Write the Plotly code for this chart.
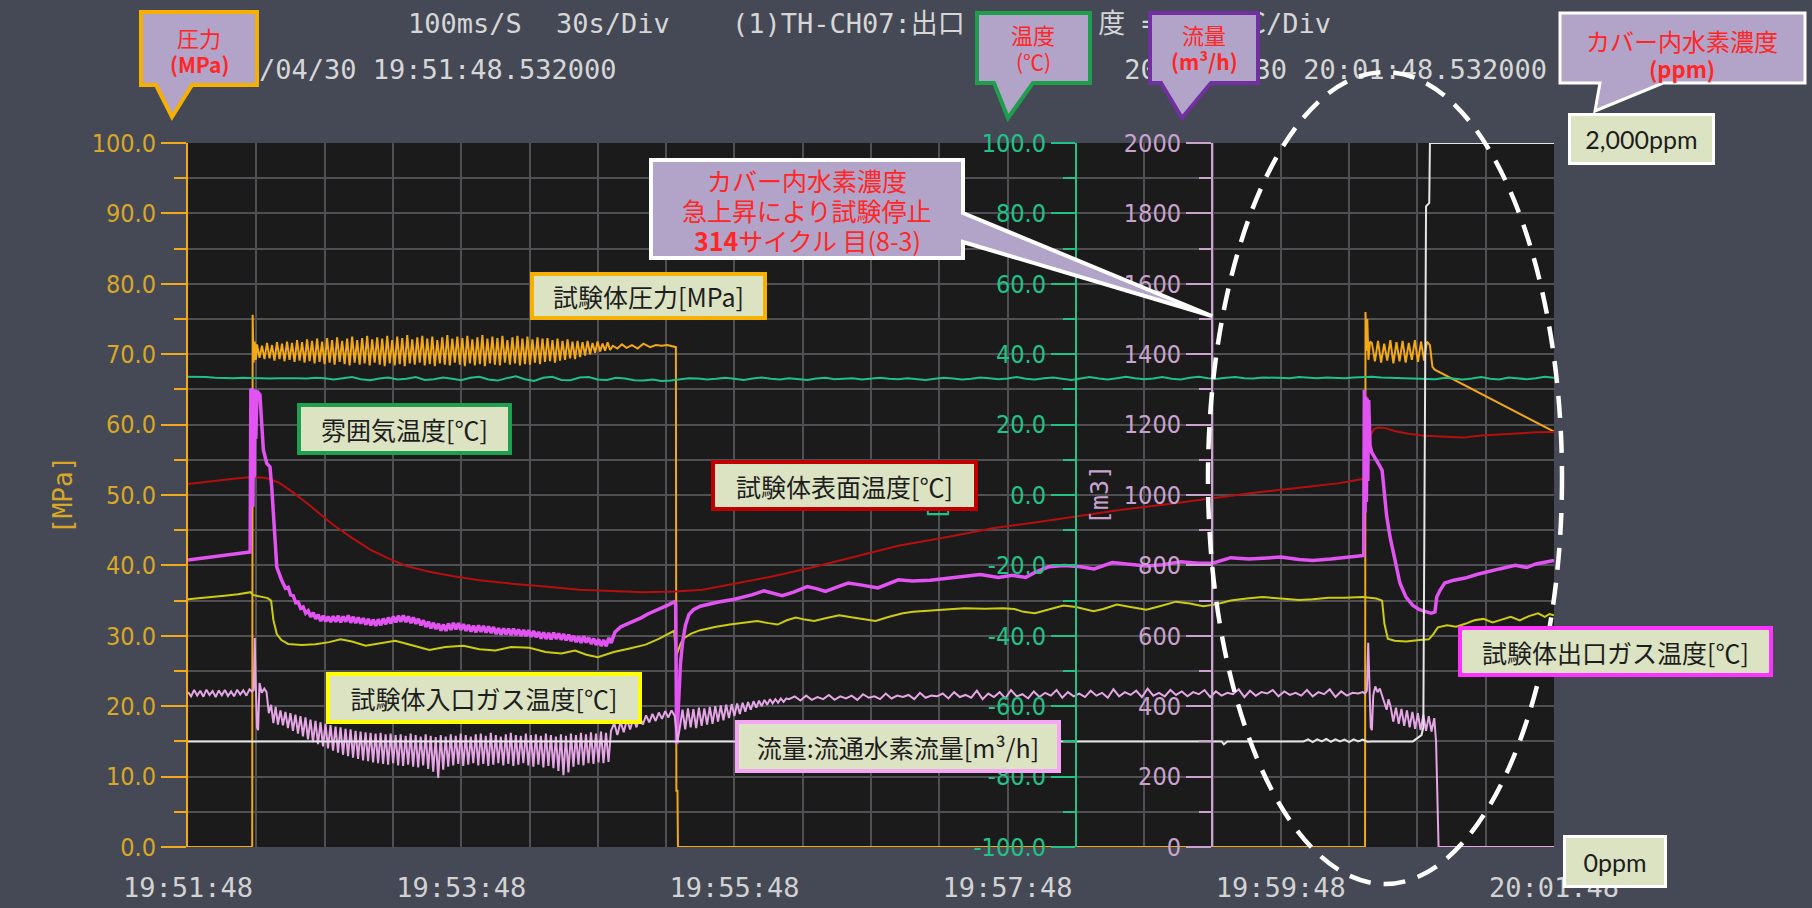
import pandas as pd
import plotly.graph_objects as go

W, H = 1812, 908
START = pd.Timestamp("2015-04-30 19:51:48")

# ---------------- axis ticks ----------------
time_tick_s = [0, 120, 240, 360, 480, 600]
time_tick_text = ["19:51:48", "19:53:48", "19:55:48", "19:57:48", "19:59:48", "20:01:48"]
time_minor_s = [30, 60, 90, 150, 180, 210, 270, 300, 330, 390, 420, 450, 510, 540, 570]

press_tick = [0, 10, 20, 30, 40, 50, 60, 70, 80, 90, 100]
press_tick_text = ["0.0", "10.0", "20.0", "30.0", "40.0", "50.0", "60.0", "70.0", "80.0", "90.0", "100.0"]
press_minor = [5, 15, 25, 35, 45, 55, 65, 75, 85, 95]

temp_tick = [-100, -80, -60, -40, -20, 0, 20, 40, 60, 80, 100]
temp_tick_text = ["-100.0", "-80.0", "-60.0", "-40.0", "-20.0", "0.0", "20.0", "40.0", "60.0", "80.0", "100.0"]
temp_minor = [-90, -70, -50, -30, -10, 10, 30, 50, 70, 90]

flow_tick = [0, 200, 400, 600, 800, 1000, 1200, 1400, 1600, 1800, 2000]
flow_tick_text = ["0", "200", "400", "600", "800", "1000", "1200", "1400", "1600", "1800", "2000"]
flow_minor = [100, 300, 500, 700, 900, 1100, 1300, 1500, 1700, 1900]

# ---------------- recorded channels (t in s from 19:51:48) ----------------
# test-piece pressure [MPa]
press_head = [(0.0, 0.0), (28.2, 0.0), (28.4, 75.6), (28.8, 68.8), (29.3, 71.8), (29.8, 69.2)]
press_ripple1_t0, press_ripple1_dt = 30.3, 1.1
press_ripple1 = [
    71.4, 69.5, 71.2, 69.3, 71.6, 69.4, 71.3, 69.1, 71.7, 69.3,
    71.5, 69.0, 71.8, 69.2, 71.6, 68.9, 72.0, 69.1, 71.7, 68.8,
    72.1, 69.0, 71.9, 68.7, 72.2, 68.9, 71.8, 68.6, 72.3, 68.8,
    72.0, 68.5, 72.4, 68.9, 71.9, 68.6, 72.2, 68.4, 72.5, 68.8,
    72.0, 68.5, 72.3, 68.7, 72.6, 68.4, 72.1, 68.8, 72.4, 68.5,
    72.2, 68.3, 72.6, 68.7, 72.0, 68.4, 72.5, 68.6, 72.3, 68.3,
    72.7, 68.7, 72.1, 68.5, 72.4, 68.8, 72.6, 68.4, 72.2, 68.6,
    72.5, 68.3, 72.0, 68.7, 72.4, 68.5, 72.7, 68.4, 72.2, 68.8,
    72.5, 68.5, 72.3, 68.3, 72.6, 68.7, 72.1, 68.4, 72.4, 68.6,
    72.7, 68.3, 72.2, 68.7, 72.5, 68.5, 72.3, 68.4, 72.6, 68.8,
    72.0, 68.5, 72.4, 68.7, 72.6, 68.4, 72.2, 68.6, 72.5, 68.5,
    72.1, 68.8, 72.4, 68.6, 72.2, 68.9, 72.3, 69.0, 72.0, 68.8,
    72.2, 69.1, 71.9, 69.2, 72.1, 69.4, 71.8, 69.3, 71.9, 69.6,
    71.7, 69.8, 71.9, 70.0, 71.6, 70.2, 71.8, 70.4, 71.5, 70.5,
    71.7, 70.6,
]
press_mid = [
    (186.6, 71.2), (188.6, 70.8), (190.6, 71.4), (192.6, 70.9), (195.0, 71.3),
    (197.5, 70.8), (200.0, 71.5), (203.0, 71.0), (205.5, 71.3), (208.0, 71.2),
    (210.5, 71.3), (212.5, 71.1), (214.3, 71.0), (214.5, 8.0), (215.0, 8.0),
    (215.2, 0.0), (517.0, 0.0), (517.2, 76.0), (517.6, 70.5), (518.0, 75.0),
    (518.5, 69.2), (519.2, 71.8),
]
press_ripple2_t0, press_ripple2_dt = 520.0, 1.35
press_ripple2 = [71.6, 69.0, 71.9, 68.8, 71.5, 69.1, 72.0, 68.7, 71.7,
                 69.0, 71.9, 68.8, 71.6, 69.2, 72.0, 68.9, 71.8, 69.1]
press_tail = [(544.2, 71.8), (545.5, 71.3), (546.6, 68.2), (547.6, 67.8), (600.0, 59.0)]

# ambient temperature [°C], one reading every 4 s
ambient_t0, ambient_dt = 0.0, 4.0
ambient = [
    33.6, 33.6, 33.5, 33.3, 33.2, 33.2, 33.3, 33.2,
    33.0, 33.1, 33.2, 33.3, 33.2, 33.1, 33.3, 33.2,
    32.8, 33.2, 33.5, 32.9, 32.6, 33.1, 33.4, 32.8, 33.0, 33.5, 32.7, 32.9, 33.4, 33.0, 32.6, 33.3,
    33.6, 32.8, 32.5, 33.2, 33.7, 32.9, 32.4, 33.3, 33.6, 32.7, 32.6, 33.4, 33.5, 32.8, 32.7, 33.3,
    33.1, 32.6, 32.5, 32.8, 32.4, 32.5, 32.9, 33.2, 33.1, 32.8, 33.0, 33.3, 33.0, 32.7, 33.1, 33.4,
    33.0, 32.8, 33.2, 33.0, 32.7, 33.1, 33.3, 32.9, 33.0, 33.2, 32.8, 33.0, 33.3, 33.0, 32.9, 33.2,
    33.0, 32.7, 33.0, 33.3, 33.1, 32.8, 33.0, 33.4, 33.2, 32.9, 33.1, 33.5, 33.0, 32.8, 33.2, 33.4,
    33.0, 32.7, 33.1, 33.5, 33.1, 32.8, 33.2, 33.6, 33.2, 32.9, 33.1, 33.5, 33.0, 32.8, 33.3, 33.6,
    33.2, 33.0, 33.3, 33.5, 33.2, 33.1, 33.4, 33.3, 33.1, 33.2, 33.5, 33.3, 33.2, 33.4, 33.3, 33.2,
    33.4, 33.5, 33.6, 33.4, 33.3, 33.2, 33.0, 33.0, 32.8, 32.9, 33.3, 33.0, 32.8, 33.1, 33.5, 33.0,
    32.8, 33.4, 33.1, 32.9, 33.2, 33.6, 33.3,
]

# test-piece surface temperature [°C]
surface = [
    (0, 3.1), (10, 3.9), (20, 4.6), (28, 5.1), (34, 4.9), (40, 3.5), (46, 0.8), (52, -2.2),
    (58, -5.5), (64, -8.6), (72, -12.2), (80, -15.5), (88, -18.0), (96, -20.2), (106, -21.8),
    (116, -23.0), (128, -24.2), (142, -25.2), (158, -26.1), (172, -26.9), (186, -27.3),
    (200, -27.6), (214, -27.4), (226, -26.9), (240, -25.2), (256, -23.2), (274, -20.6),
    (292, -17.7), (312, -14.4), (333, -12.0), (354, -9.4), (372, -7.8), (390, -6.0),
    (410, -4.2), (430, -2.6), (450, -0.8), (470, 0.8), (490, 2.2), (505, 3.3), (516.5, 4.6),
    (517.5, 10.0), (519, 16.5), (521, 18.8), (523, 19.2), (526, 19.0), (530, 18.2),
    (536, 17.4), (542, 16.9), (550, 16.6), (560, 16.3), (568, 16.9), (576, 17.2),
    (584, 17.6), (592, 17.8), (600, 17.9),
]

# test-piece inlet gas temperature [°C]
inlet = [
    (0, -29.6), (8, -29.0), (16, -28.6), (22, -28.2), (27.5, -27.6), (28.5, -28.4), (31, -28.8),
    (35, -29.3), (36.5, -30.0), (37.5, -35.5), (39, -39.5), (41, -41.2), (44, -42.3), (50, -42.6),
    (56, -42.4), (62, -41.8), (67, -41.0), (72, -41.6), (78, -42.8), (85, -42.0), (91, -41.4),
    (98, -42.6), (106, -44.0), (113, -43.2), (121, -42.8), (128, -43.8), (135, -44.2),
    (142, -43.2), (150, -43.4), (157, -44.6), (164, -45.0), (170, -44.2), (175, -45.4),
    (180, -46.1), (184, -45.2), (187, -44.6), (194, -43.6), (201, -42.5), (207, -40.8),
    (213.5, -38.6), (214.5, -45.6), (215.3, -44.0), (216.5, -42.0), (218, -40.6), (221, -39.4),
    (225, -38.4), (232, -37.4), (238, -36.8), (244, -36.2), (250, -35.8), (255, -36.4),
    (259, -36.8), (263, -35.6), (267, -34.8), (271, -35.4), (275, -35.8), (280, -35.0),
    (286, -34.2), (292, -34.8), (297, -35.4), (302, -35.8), (308, -34.6), (314, -33.6),
    (318.5, -33.2), (326, -32.8), (334, -32.4), (341, -32.2), (350, -32.3), (358, -32.2),
    (363, -32.4), (367, -33.2), (372, -33.6), (378, -32.6), (384.5, -31.4), (390, -31.8),
    (397.7, -33.0), (402, -32.4), (408, -31.1), (414, -31.8), (421, -32.6), (428, -31.4),
    (434, -30.3), (440, -30.8), (446, -31.6), (452, -31.0), (458, -30.0), (465, -29.4),
    (472, -29.0), (480, -29.4), (488, -29.8), (494, -29.6), (501, -29.2), (508, -29.2),
    (516, -29.0), (522, -29.4), (524.5, -30.0), (525.5, -36.5), (527, -40.8), (530, -41.4),
    (535, -41.6), (541, -41.2), (545, -41.0), (547, -39.5), (549, -37.6), (553, -37.0),
    (557, -37.4), (561, -36.6), (565, -35.6), (569, -35.2), (573, -36.2), (577, -35.4),
    (581, -34.6), (585, -35.6), (589, -34.4), (593, -33.6), (596, -34.6), (598, -33.8),
    (600, -34.2),
]

# test-piece outlet gas temperature [°C]
outlet_head = [
    (0, -18.5), (6, -18.0), (12, -17.5), (18, -17.0), (24, -16.5), (27.3, -16.2),
    (27.6, 30.2), (27.9, -3.0), (28.2, 30.4), (28.5, -3.4), (28.8, 29.8), (29.1, 5.0),
    (29.4, 30.0), (29.8, 16.0), (30.3, 29.5), (31.0, 29.0), (31.6, 28.5), (32.4, 20.0),
    (33.1, 12.8), (34.6, 9.0), (36.0, 8.0), (36.8, 2.0), (37.5, -6.0), (39.0, -20.5),
    (41.0, -24.0), (42.8, -26.5),
]
outlet_ripple_t0, outlet_ripple_dt = 44.0, 1.1
outlet_ripple = [
    -26.2, -28.4, -28.6, -30.6, -30.4, -32.2, -31.8, -33.6, -32.9, -34.6,
    -33.4, -35.2, -34.0, -35.8, -34.3, -35.9, -34.5, -36.1, -34.4, -36.0,
    -34.3, -36.2, -34.5, -36.0, -34.2, -36.3, -34.6, -36.4, -34.8, -36.5,
    -35.0, -36.8, -35.2, -37.0, -35.4, -37.2, -35.3, -37.0, -35.1, -36.7,
    -34.8, -36.5, -34.5, -36.2, -34.3, -36.0, -34.2, -36.1, -34.5, -36.4,
    -34.8, -36.6, -35.2, -37.0, -35.6, -37.5, -36.0, -37.9, -36.3, -38.1,
    -36.6, -38.5, -36.8, -38.6, -36.5, -38.3, -36.3, -38.2, -36.4, -38.3,
    -36.7, -38.6, -36.9, -38.8, -37.1, -39.0, -37.0, -38.9, -37.2, -39.1,
    -37.3, -39.2, -37.5, -39.5, -37.8, -39.7, -37.9, -39.6, -38.0, -39.8,
    -38.0, -39.8, -38.2, -40.0, -38.3, -40.1, -38.4, -40.3, -38.6, -40.4,
    -38.9, -40.8, -39.0, -40.9, -39.2, -41.0, -39.1, -40.9, -39.3, -41.1,
    -39.5, -41.3, -39.7, -41.5, -40.0, -41.8, -40.2, -42.0, -40.1, -41.9,
    -40.5, -42.3, -40.8, -42.6, -41.0, -42.9, -41.2, -43.0, -40.6, -42.0,
]
outlet_mid = [
    (187.5, -39.0), (190, -37.5), (193, -36.6), (196, -35.8), (199, -34.9), (202, -33.8),
    (205, -33.0), (208, -32.2), (211, -31.2), (213.5, -30.4), (214.2, -31.0), (214.6, -70.8),
    (215.0, -66.0), (215.6, -56.0), (216.3, -48.0), (217.2, -42.0), (218.5, -37.0), (220, -34.0),
    (222, -32.6), (225, -31.6), (229, -30.9), (233, -30.4), (240, -29.6), (248, -28.3),
    (253, -27.2), (257, -27.8), (261, -28.6), (266, -27.6), (272, -26.0), (276, -26.6),
    (280, -27.4), (285, -26.2), (290, -25.0), (296, -25.6), (303, -26.4), (312, -24.1),
    (318, -24.4), (326, -24.2), (334, -23.6), (340, -23.0), (348, -22.6), (356, -23.4),
    (362, -22.8), (368, -23.4), (372, -22.0), (378, -20.4), (385, -20.0), (392, -20.4),
    (398, -21.0), (406, -19.2), (414, -19.6), (421, -20.2), (428, -19.8), (436, -19.0),
    (444, -19.4), (450, -19.4), (458, -17.8), (466, -18.2), (474, -17.9), (480, -17.6),
    (488, -18.3), (494, -18.6), (502, -18.2), (510, -17.7), (516.4, -17.2),
]
outlet_tail = [
    (516.7, 29.8), (517.0, -5.0), (517.3, 28.0), (517.6, -2.0), (517.9, 27.5), (518.2, 4.0),
    (518.6, 27.0), (519.2, 14.0), (520.0, 12.0), (521.3, 10.8), (523.0, 8.8), (524.5, 7.0),
    (525.5, 0.0), (526.5, -6.0), (528.0, -12.0), (529.3, -15.6), (531.0, -21.0), (532.3, -25.0),
    (535.0, -29.0), (538.0, -31.4), (541.0, -32.6), (544.0, -33.2), (546.0, -33.6),
    (547.7, -33.2), (548.5, -29.0), (550.0, -27.0), (552.0, -25.0), (556.0, -24.2),
    (561.0, -23.6), (566.0, -22.6), (570.0, -21.9), (576.0, -21.0), (583.0, -20.0),
    (588.0, -20.6), (592.0, -19.6), (596.0, -19.0), (600.0, -18.6),
]

# circulating hydrogen flow [m³/h]
flow_pre_t0, flow_pre_dt = 0.0, 1.35
flow_pre = [440, 428, 446, 430, 444, 427, 447, 432, 443, 426, 445,
            431, 446, 429, 442, 428, 447, 433, 445, 430, 448]
flow_spike = [
    (28.0, 442), (28.9, 446), (29.3, 594), (29.7, 480), (30.3, 340), (30.8, 332), (31.4, 466),
    (32.4, 438), (33.5, 450), (34.5, 440), (35.5, 380), (36.5, 404), (37.5, 352), (38.5, 398),
    (39.5, 348),
]
flow_ripple1_t0, flow_ripple1_dt = 40.6, 1.1
flow_ripple1 = [
    388, 346, 384, 338, 380, 330, 376, 322, 372, 314,
    368, 306, 362, 298, 358, 292, 354, 286, 350, 280,
    346, 274, 342, 268, 340, 262, 336, 258, 334, 254,
    330, 250, 328, 246, 326, 244, 324, 240, 322, 238,
    324, 236, 320, 234, 322, 238, 318, 232, 320, 230,
    316, 234, 322, 228, 318, 226, 314, 232, 320, 222,
    316, 214, 312, 196, 318, 220, 314, 228, 320, 232,
    316, 236, 322, 230, 318, 234, 314, 238, 320, 232,
    322, 236, 316, 230, 324, 234, 318, 238, 314, 232,
    320, 236, 324, 230, 318, 234, 316, 238, 322, 232,
    318, 228, 320, 234, 316, 226, 322, 230, 318, 224,
    314, 216, 320, 204, 316, 212, 322, 228, 318, 234,
    324, 232, 320, 238, 326, 236, 322, 240, 328, 238,
    324, 242, 330,
]
flow_recover_t0, flow_recover_dt = 187.2, 1.4
flow_recover = [352, 318, 356, 326, 362, 334, 366, 340, 370, 348,
                374, 354, 378, 358, 382, 364, 386, 368, 388, 372]
flow_drop = [(214.5, 330), (215.0, 300)]
flow_ripple2_t0, flow_ripple2_dt = 216.0, 1.2
flow_ripple2 = [338, 390, 334, 394, 340, 392, 338, 396, 344, 394,
                348, 398, 350, 400, 356, 402, 360, 404, 366, 406,
                372, 408, 378, 410, 384, 412, 390, 414, 396, 416,
                400, 418, 404, 420, 408, 420, 410, 422, 412, 422]
flow_steady_t0, flow_steady_dt = 264.0, 2.5
flow_steady = [
    420, 428, 416, 430, 418, 426, 420, 432, 418, 428,
    422, 430, 418, 434, 424, 428, 420, 436, 422, 430,
    426, 432, 420, 438, 424, 430, 428, 436, 422, 440,
    426, 432, 424, 444, 420, 436, 426, 440, 422, 446,
    428, 434, 422, 442, 426, 438, 430, 446, 424, 440,
    428, 436, 426, 444, 430, 438, 424, 448, 428, 440,
    432, 444, 426, 450, 430, 438, 428, 446, 432, 442,
    428, 440, 434, 446, 426, 442, 430, 438, 434, 448,
    426, 444, 430, 440, 436, 446, 428, 442, 432, 438,
    430, 446, 428, 440, 434, 448, 426, 442, 430, 438,
    436,
]
flow_event = [
    (516.0, 440), (517.0, 436), (517.8, 444), (518.4, 580), (518.9, 470), (519.5, 340),
    (520.0, 332), (520.6, 430), (521.5, 456), (522.5, 440), (523.5, 450), (524.5, 430),
    (525.5, 410), (526.5, 390), (527.3, 420),
]
flow_ripple3_t0, flow_ripple3_dt = 528.2, 1.2
flow_ripple3 = [400, 356, 396, 350, 392, 344, 388, 340, 384, 336, 380, 332, 376, 330, 372, 328, 366]
flow_tail = [(548.2, 300), (548.8, 120), (549.3, 0), (600.0, 0)]

# hydrogen concentration inside the cover [ppm]
h2_ppm = [
    (0, 300), (150, 300), (300, 300), (454, 300), (455, 292), (456.5, 300), (490, 300),
    (492, 306), (494, 298), (496, 306), (498, 300), (500, 307), (502, 299), (504, 306),
    (506, 300), (508, 305), (510, 298), (512, 306), (514, 300), (516, 305), (518, 299),
    (520, 300), (538, 300), (540, 310), (541.8, 318), (542.6, 340), (543.2, 1000),
    (543.8, 1820), (545.2, 1830), (545.5, 2000), (600, 2000),
]


# ---------------- helpers ----------------
def pts(pairs):
    return [p[0] for p in pairs], [p[1] for p in pairs]


def sampled(t0, dt, vals):
    return [t0 + i * dt for i in range(len(vals))], list(vals)


def join(*parts):
    ts, vs = [], []
    for t, v in parts:
        ts += t
        vs += v
    return ts, vs


def clock(ts):
    return [START + pd.Timedelta(seconds=s) for s in ts]


def fx(px):
    return px / W


def fy(py):
    return 1 - py / H


press_t, press_v = join(pts(press_head), sampled(press_ripple1_t0, press_ripple1_dt, press_ripple1),
                        pts(press_mid), sampled(press_ripple2_t0, press_ripple2_dt, press_ripple2),
                        pts(press_tail))
amb_t, amb_v = sampled(ambient_t0, ambient_dt, ambient)
surf_t, surf_v = pts(surface)
in_t, in_v = pts(inlet)
out_t, out_v = join(pts(outlet_head), sampled(outlet_ripple_t0, outlet_ripple_dt, outlet_ripple),
                    pts(outlet_mid), pts(outlet_tail))
flow_t, flow_v = join(sampled(flow_pre_t0, flow_pre_dt, flow_pre), pts(flow_spike),
                      sampled(flow_ripple1_t0, flow_ripple1_dt, flow_ripple1),
                      sampled(flow_recover_t0, flow_recover_dt, flow_recover), pts(flow_drop),
                      sampled(flow_ripple2_t0, flow_ripple2_dt, flow_ripple2),
                      sampled(flow_steady_t0, flow_steady_dt, flow_steady), pts(flow_event),
                      sampled(flow_ripple3_t0, flow_ripple3_dt, flow_ripple3), pts(flow_tail))
h2_t, h2_v = pts(h2_ppm)

# ---------------- styling ----------------
BG = "#444955"
PLOT_BG = "#1b1b1b"
GRID = "#505054"
ORANGE = "#f2a818"
GOLD = "#d9a628"
GREEN = "#22c286"
LAV = "#c9a3cd"
MONO = "DejaVu Sans Mono, Noto Sans CJK JP, monospace"
NARROW = "DejaVu Sans Condensed, DejaVu Sans, sans-serif"
CJK = "Noto Sans CJK JP, sans-serif"
CALLOUT_FILL = "#b2a3c8"
LABEL_FILL = "#dce3c3"
RED_TXT = "#ff2626"

X0, X1 = fx(188), fx(1554)
Y0, Y1 = fy(847), fy(143)

fig = go.Figure()


def line(t, v, color, width, axis):
    fig.add_trace(go.Scatter(x=clock(t), y=v, mode="lines", yaxis=axis, hoverinfo="skip",
                             line=dict(color=color, width=width), showlegend=False))


line(press_t, press_v, ORANGE, 2, "y")
line(h2_t, h2_v, "#e6e6e6", 2, "y4")
line(flow_t, flow_v, "#e4a6e4", 2, "y3")
line(in_t, in_v, "#cccc12", 2, "y2")
line(surf_t, surf_v, "#b50f10", 2, "y2")
line(amb_t, amb_v, "#20c08a", 2, "y2")
line(out_t, out_v, "#e154f2", 3.5, "y2")

# recorder header text (sits underneath the speech-bubble tags)
header = [
    ("100ms/S", 408, 26, "middle right"),
    ("30s/Div", 556, 26, "middle right"),
    ("(1)TH-CH07:出口", 732, 26, "middle right"),
    ("度 = 10.0℃/Div", 1331, 26, "middle left"),
    ("/04/30 19:51:48.532000", 259, 72, "middle right"),
    ("2015/04/30 20:01:48.532000", 1547, 72, "middle left"),
]
fig.add_trace(go.Scatter(
    x=[h[1] for h in header], y=[h[2] for h in header], text=[h[0] for h in header],
    textposition=[h[3] for h in header], mode="text", xaxis="x2", yaxis="y5",
    textfont=dict(family=MONO, size=27, color="#d6d6d6"), hoverinfo="skip", showlegend=False))

tick_font = dict(family=NARROW, size=25)

fig.update_layout(
    template="none",
    width=W, height=H, autosize=False,
    margin=dict(l=0, r=0, t=0, b=0, pad=0),
    paper_bgcolor=BG, plot_bgcolor="rgba(0,0,0,0)",
    xaxis=dict(
        domain=[X0, X1], anchor="y", automargin=False,
        range=[START, START + pd.Timedelta(seconds=600)],
        tickvals=clock(time_tick_s), ticktext=time_tick_text,
        tickfont=dict(family=MONO, size=27, color="#d2d2d2"),
        ticks="", ticklabelstandoff=22,
        showgrid=True, gridcolor=GRID, gridwidth=1.5,
        minor=dict(tickvals=clock(time_minor_s), showgrid=True, gridcolor=GRID, gridwidth=1.5),
        showline=False, zeroline=False, fixedrange=True,
    ),
    yaxis=dict(
        domain=[Y0, Y1], anchor="x", range=[0, 100], automargin=False,
        tickvals=press_tick, ticktext=press_tick_text,
        tickfont=dict(color=GOLD, **tick_font),
        ticks="outside", ticklen=25, tickwidth=2, tickcolor=ORANGE,
        showline=True, linecolor=ORANGE, linewidth=2,
        showgrid=True, gridcolor=GRID, gridwidth=1.5,
        minor=dict(tickvals=press_minor, ticks="outside", ticklen=12, tickwidth=2,
                   tickcolor=ORANGE, showgrid=True, gridcolor=GRID, gridwidth=1.5),
        zeroline=False, fixedrange=True,
    ),
    yaxis2=dict(
        overlaying="y", anchor="free", position=fx(1076), side="left", range=[-100, 100],
        automargin=False, tickvals=temp_tick, ticktext=temp_tick_text,
        tickfont=dict(color=GREEN, **tick_font),
        ticks="outside", ticklen=24, tickwidth=2, tickcolor=GREEN,
        showline=True, linecolor=GREEN, linewidth=2, showgrid=False,
        minor=dict(tickvals=temp_minor, ticks="outside", ticklen=12, tickwidth=2,
                   tickcolor=GREEN, showgrid=False),
        zeroline=False, fixedrange=True,
    ),
    yaxis3=dict(
        overlaying="y", anchor="free", position=fx(1212), side="left", range=[0, 2000],
        automargin=False, tickvals=flow_tick, ticktext=flow_tick_text,
        tickfont=dict(color=LAV, **tick_font),
        ticks="outside", ticklen=25, tickwidth=2, tickcolor=LAV,
        showline=True, linecolor=LAV, linewidth=2, showgrid=False,
        minor=dict(tickvals=flow_minor, ticks="outside", ticklen=12, tickwidth=2,
                   tickcolor=LAV, showgrid=False),
        zeroline=False, fixedrange=True,
    ),
    yaxis4=dict(overlaying="y", range=[0, 2000], visible=False, fixedrange=True, automargin=False),
    xaxis2=dict(domain=[0, 1], range=[0, W], anchor="y5", visible=False, fixedrange=True,
                automargin=False),
    yaxis5=dict(domain=[0, 1], range=[H, 0], anchor="x2", visible=False, fixedrange=True,
                automargin=False),
)


def path(points):
    d = "M " + " L ".join(f"{fx(x):.5f},{fy(y):.5f}" for x, y in points) + " Z"
    return d


shapes = [
    dict(type="rect", xref="paper", yref="paper", x0=X0, x1=X1, y0=Y0, y1=Y1,
         fillcolor=PLOT_BG, line=dict(width=0), layer="below"),
    dict(type="circle", xref="paper", yref="paper", x0=fx(1208), x1=fx(1562), y0=fy(884), y1=fy(72),
         line=dict(color="white", width=4.5, dash="22px,13px"), fillcolor="rgba(0,0,0,0)", layer="above"),
]
bubbles = [
    ([(141, 12), (257, 12), (257, 85), (192, 85), (172, 117), (156, 85), (141, 85)], "#f5b000", 4),
    ([(977, 13), (1090, 13), (1090, 83), (1033, 83), (1008, 118), (994, 83), (977, 83)], "#1e9e4c", 4),
    ([(1150, 13), (1258, 13), (1258, 83), (1211, 83), (1182, 118), (1161, 83), (1150, 83)], "#7030a0", 4),
    ([(1560, 13), (1805, 13), (1805, 83), (1663, 83), (1595, 111), (1600, 83), (1560, 83)], "#ffffff", 3),
    ([(651, 160), (963, 160), (963, 213), (1212, 316), (963, 242), (963, 258), (651, 258)], "#ffffff", 4),
]
for pts_, col, wd in bubbles:
    shapes.append(dict(type="path", xref="paper", yref="paper", path=path(pts_),
                       fillcolor=CALLOUT_FILL, line=dict(color=col, width=wd), layer="above"))
fig.update_layout(shapes=shapes)

ann = []


def text(s, x, y, color, size, family=CJK, angle=0):
    ann.append(dict(x=fx(x), y=fy(y), xref="paper", yref="paper", text=s, showarrow=False,
                    xanchor="center", yanchor="middle", textangle=angle,
                    font=dict(family=family, size=size, color=color)))


def tag(s, x0, y0, x1, y1, border, family=CJK, size=25, bw=4):
    ann.append(dict(x=fx((x0 + x1) / 2), y=fy((y0 + y1) / 2), xref="paper", yref="paper",
                    text=s, showarrow=False, xanchor="center", yanchor="middle",
                    width=x1 - x0 - 2 * bw, height=y1 - y0 - 2 * bw, align="center", valign="middle",
                    bgcolor=LABEL_FILL, bordercolor=border, borderwidth=bw, borderpad=0,
                    font=dict(family=family, size=size, color="#1e1e1e")))


# axis unit captions
text("[MPa]", 63, 495, GOLD, 26, MONO, -90)
text("[m3]", 1100, 495, LAV, 25, MONO, -90)
text("[℃]", 937, 494, GREEN, 25, MONO, -90)

# bubble captions
text("圧力", 199, 37, RED_TXT, 22)
text("<b>(MPa)</b>", 199, 64, RED_TXT, 21)
text("温度", 1033, 34, RED_TXT, 22)
text("(℃)", 1033, 61, RED_TXT, 21)
text("流量", 1204, 34, RED_TXT, 22)
text("<b>(m³/h)</b>", 1204, 61, RED_TXT, 21)
text("カバー内水素濃度", 1682, 40, RED_TXT, 24)
text("<b>(ppm)</b>", 1682, 68, RED_TXT, 22)
text("カバー内水素濃度", 807, 180, RED_TXT, 25)
text("急上昇により試験停止", 807, 210, RED_TXT, 25)
text("<b>314</b>サイクル 目(8-3)", 807, 240, RED_TXT, 25)

# channel name tags
tag("試験体圧力[MPa]", 530, 272, 767, 320, "#f5b000")
tag("雰囲気温度[℃]", 297, 403, 512, 455, "#1fa04e")
tag("試験体表面温度[℃]", 711, 460, 978, 511, "#c00000")
tag("試験体入口ガス温度[℃]", 326, 672, 642, 724, "#ffff00")
tag("流量:流通水素流量[m³/h]", 735, 720, 1061, 773, "#f4a6f4")
tag("試験体出口ガス温度[℃]", 1458, 626, 1773, 677, "#ff33ff")
tag("2,000ppm", 1568, 113, 1715, 165, "#ffffff", "Lato, Open Sans, sans-serif", 25, 3)
tag("0ppm", 1563, 835, 1667, 888, "#ffffff", "Lato, Open Sans, sans-serif", 25, 3)

fig.update_layout(annotations=ann)
fig.write_html("out.html")
